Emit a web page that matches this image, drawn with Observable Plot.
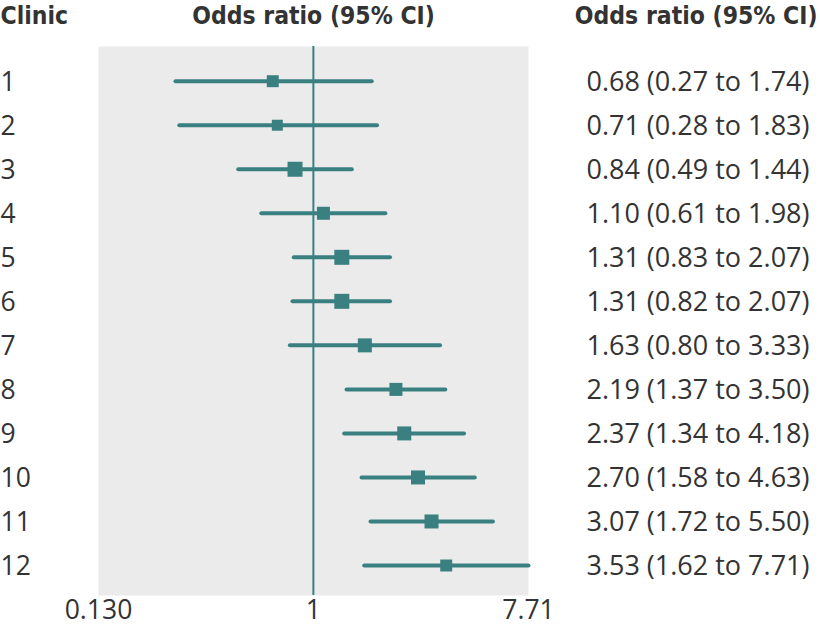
<!DOCTYPE html>
<html>
<head>
<meta charset="utf-8">
<script src="https://cdn.jsdelivr.net/npm/d3@7"></script>
<script src="https://cdn.jsdelivr.net/npm/@observablehq/plot@0.6"></script>
<style>
  body { margin: 0; background: #fff; }
  svg { display: block; }
</style>
</head>
<body>
<div id="chart"></div>
<script>
const clinics = [1, 2, 3, 4, 5, 6, 7, 8, 9, 10, 11, 12];
const oddsRatio = [0.68, 0.71, 0.84, 1.10, 1.31, 1.31, 1.63, 2.19, 2.37, 2.70, 3.07, 3.53];
const lowerCI   = [0.27, 0.28, 0.49, 0.61, 0.83, 0.82, 0.80, 1.37, 1.34, 1.58, 1.72, 1.62];
const upperCI   = [1.74, 1.83, 1.44, 1.98, 2.07, 2.07, 3.33, 3.50, 4.18, 4.63, 5.50, 7.71];
const weights   = [6.5, 5.5, 10.2, 7.7, 10.2, 10.2, 8.9, 7.7, 8.9, 8.9, 8.9, 6.5];
const xTicks = [0.13, 1, 7.71];
const xTickLabels = ["0.130", "1", "7.71"];

const rows = clinics.map((c, i) => ({
  clinic: c, or: oddsRatio[i], lo: lowerCI[i], hi: upperCI[i], w: weights[i],
  label: `${oddsRatio[i].toFixed(2)} (${lowerCI[i].toFixed(2)} to ${upperCI[i].toFixed(2)})`
}));
const ticks = xTicks.map((t, i) => ({ x: t, label: xTickLabels[i] }));

const teal = "#3b8081";
const textCol = "#333333";
const bodyFont = "'Open Sans', Roboto, sans-serif";
const headFont = "'Liberation Sans Narrow', 'DejaVu Sans Condensed', sans-serif";

const chart = Plot.plot({
  width: 820,
  height: 632,
  marginLeft: 98,
  marginRight: 292,
  marginTop: 46,
  marginBottom: 37,
  style: { fontFamily: bodyFont, color: textCol, background: "#fff" },
  x: { type: "log", domain: [0.13, 7.71], axis: null },
  y: { type: "linear", domain: [1, 12], range: [80.7, 565], axis: null },
  r: { type: "sqrt", domain: [0, 10.2], range: [0, 15 / Math.sqrt(Math.PI)] },
  marks: [
    Plot.frame({ fill: "#ebebeb", stroke: null }),
    Plot.ruleX([1], { stroke: teal, strokeWidth: 2 }),
    Plot.link(rows, { x1: "lo", x2: "hi", y1: "clinic", y2: "clinic", stroke: teal, strokeWidth: 4, strokeLinecap: "round" }),
    Plot.dot(rows, { x: "or", y: "clinic", r: "w", symbol: "square", fill: teal, stroke: null }),
    Plot.text(ticks, { x: "x", text: "label", frameAnchor: "bottom", lineAnchor: "middle", dy: 15, fontSize: 26.5, fill: textCol }),
    Plot.text(rows, { y: "clinic", text: (d) => String(d.clinic), frameAnchor: "left", dx: -98, dy: 1, textAnchor: "start", fontSize: 26.5, fill: textCol }),
    Plot.text(rows, { y: "clinic", text: "label", frameAnchor: "right", dx: 281, dy: 1, textAnchor: "end", fontSize: 27, fill: textCol }),
    Plot.text(["Clinic"], { frameAnchor: "top-left", dx: -98, dy: -30, lineAnchor: "middle", textAnchor: "start", fontSize: 24.5, fontWeight: "bold", fontFamily: headFont, fill: textCol }),
    Plot.text(["Odds ratio (95% CI)"], { frameAnchor: "top", dy: -30, lineAnchor: "middle", fontSize: 24.5, fontWeight: "bold", fontFamily: headFont, fill: textCol }),
    Plot.text(["Odds ratio (95% CI)"], { frameAnchor: "top-right", dx: 289, dy: -30, lineAnchor: "middle", textAnchor: "end", fontSize: 24.5, fontWeight: "bold", fontFamily: headFont, fill: textCol })
  ]
});
document.getElementById("chart").appendChild(chart);
</script>
</body>
</html>
